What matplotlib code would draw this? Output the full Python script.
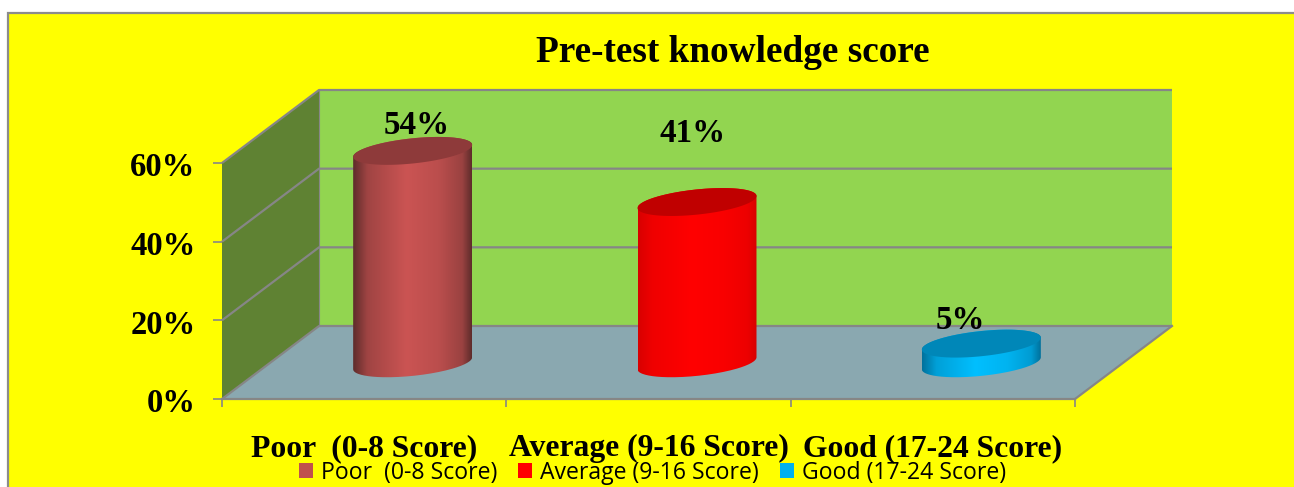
import numpy as np
import matplotlib
matplotlib.use("Agg")
import matplotlib.pyplot as plt
from matplotlib.colors import LinearSegmentedColormap, to_rgb
from matplotlib.patches import Polygon, Rectangle, Patch
from matplotlib.path import Path
from matplotlib.transforms import ScaledTranslation

W, H = 1294, 487

# chart data
categories = ["Poor  (0-8 Score)", "Average (9-16 Score)", "Good (17-24 Score)"]
values = [54, 41, 5]
value_labels = ["54%", "41%", "5%"]
y_ticks = [0, 20, 40, 60]
y_tick_labels = ["0%", "20%", "40%", "60%"]
title = "Pre-test knowledge score"

# styles per bar
edge_colors = ["#5e2c2b", "#d80000", "#00719c"]
mid_colors = ["#cb5453", "#ff0000", "#00bfff"]
top_colors = ["#8e3a3a", "#c00000", "#0087b8"]
legend_colors = ["#c0504d", "#ff0000", "#00b0f0"]
# label offsets from the top of each cylinder, in points
label_offsets = [(3, 18), (-3, 49), (-15, 17)]

GRID = "#868686"
serif = {"family": "Liberation Serif", "weight": "bold"}

fig = plt.figure(figsize=(W / 100, H / 100), dpi=100, facecolor="white")

# yellow chart area with its grey border, open at right and bottom
fig.patches.append(Rectangle((8 / W, -0.1), 1.1, 1.1 - 13 / H, transform=fig.transFigure,
                             facecolor="#ffff00", edgecolor="#8c8c8c", linewidth=1.6, zorder=-1))

ax = fig.add_axes([222 / W, (H - 399) / H, 853 / W, 236 / H])
ax.set_xlim(0, 3)
ax.set_ylim(0, 60)
ax.patch.set_visible(False)
for name in ["top", "right", "left"]:
    ax.spines[name].set_visible(False)
ax.spines["bottom"].set_color(GRID)
ax.spines["bottom"].set_linewidth(1.6)
ax.spines["bottom"].set_zorder(3)

# depth of the 3d box in data units
DX = 97 / (853 / 3)
DY = 73 / (236 / 60)

top = y_ticks[-1]
ax.add_patch(Polygon([(0, 0), (DX, DY), (DX, top + DY), (0, top)], closed=True,
                     facecolor="#5f8233", edgecolor="none", clip_on=False, zorder=1))
ax.add_patch(Polygon([(DX, DY), (3 + DX, DY), (3 + DX, top + DY), (DX, top + DY)], closed=True,
                     facecolor="#92d550", edgecolor="none", clip_on=False, zorder=1))
ax.add_patch(Polygon([(0, 0), (3, 0), (3 + DX, DY), (DX, DY)], closed=True,
                     facecolor="#8aa8b0", edgecolor="none", clip_on=False, zorder=1))

for t in y_ticks:
    ax.plot([0, DX, 3 + DX], [t, t + DY, t + DY], color=GRID, lw=1.6, clip_on=False, zorder=2,
            solid_capstyle="butt")
ax.plot([DX, DX], [DY, top + DY], color=GRID, lw=0.8, clip_on=False, zorder=2)
ax.plot([3, 3 + DX], [0, DY], color=GRID, lw=1.6, clip_on=False, zorder=2)

# cylinders: sheared ellipses, right end sits higher than the left
A = 59.5 / (853 / 3)
B = 12.6 / (236 / 60)
S = 6 / (236 / 60)
theta = np.linspace(0, 2 * np.pi, 181)


def ellipse_points(cx, cy, t):
    return np.column_stack([cx + A * np.cos(t), cy + B * np.sin(t) + S * np.cos(t)])


def shade_map(name, edge, mid):
    # quick falloff at the rims, highlight a bit left of the centre
    e, m = np.array(to_rgb(edge)), np.array(to_rgb(mid))
    stops = [(0, e), (0.12, e + 0.6 * (m - e)), (0.45, m), (0.72, e + 0.85 * (m - e)),
             (0.92, e + 0.55 * (m - e)), (1, e)]
    return LinearSegmentedColormap.from_list(name, [(p, tuple(c)) for p, c in stops])


for i, v in enumerate(values):
    cx = i + 0.5 + DX / 2
    base = DY / 2 - 0.2
    lower = ellipse_points(cx, base, np.linspace(np.pi, 2 * np.pi, 91))
    upper = ellipse_points(cx, base + v, np.linspace(0, np.pi, 91))
    body = np.vstack([lower, upper, lower[:1]])
    grad = np.linspace(0, 1, 256).reshape(1, -1)
    im = ax.imshow(grad, cmap=shade_map(f"cyl{i}", edge_colors[i], mid_colors[i]), aspect="auto",
                   zorder=4, extent=[cx - A, cx + A, base - 2 * B, base + v + 2 * B])
    im.set_clip_path(Path(body), transform=ax.transData)
    # the tallest bar pokes out of the axes box
    im.set_clip_box(fig.bbox)
    ax.add_patch(Polygon(ellipse_points(cx, base + v, theta), closed=True, facecolor=top_colors[i],
                         edgecolor="none", clip_on=False, zorder=5))
    ax.annotate(value_labels[i], (cx, base + v), xytext=label_offsets[i], textcoords="offset points",
                ha="center", va="center", zorder=6, annotation_clip=False, size=23.8, **serif)

ax.set_xlim(0, 3)
ax.set_ylim(0, 60)

ax.set_yticks(y_ticks, y_tick_labels, size=23.5, **serif)
ax.tick_params(axis="y", length=6.5, width=1.2, color=GRID, pad=12.5, left=True)
nudge = ScaledTranslation(0, -1 / 72, fig.dpi_scale_trans)
for label in ax.get_yticklabels():
    label.set_transform(label.get_transform() + nudge)
ax.set_xticks([0, 1, 2, 3], [""] * 4)
ax.set_xticks([0.5, 1.5, 2.5], categories, minor=True, size=22.8, **serif)
ax.tick_params(axis="x", which="major", length=6, width=1.2, color=GRID)
ax.tick_params(axis="x", which="minor", length=0, pad=25)

handles = [Patch(facecolor=c, edgecolor="none") for c in legend_colors]
fig.legend(handles, categories, loc="center", bbox_to_anchor=(652.5 / W, 1 - 473 / H), ncol=3,
           frameon=False, prop={"family": "Open Sans", "size": 16.6}, handlelength=0.62,
           handleheight=0.62, handletextpad=0.35, columnspacing=0.9, borderpad=0, labelspacing=0)

fig.text(733 / W, 1 - 52 / H, title, ha="center", va="center", size=26.8, **serif)

fig.savefig("out.png", dpi=100, facecolor=fig.get_facecolor())
